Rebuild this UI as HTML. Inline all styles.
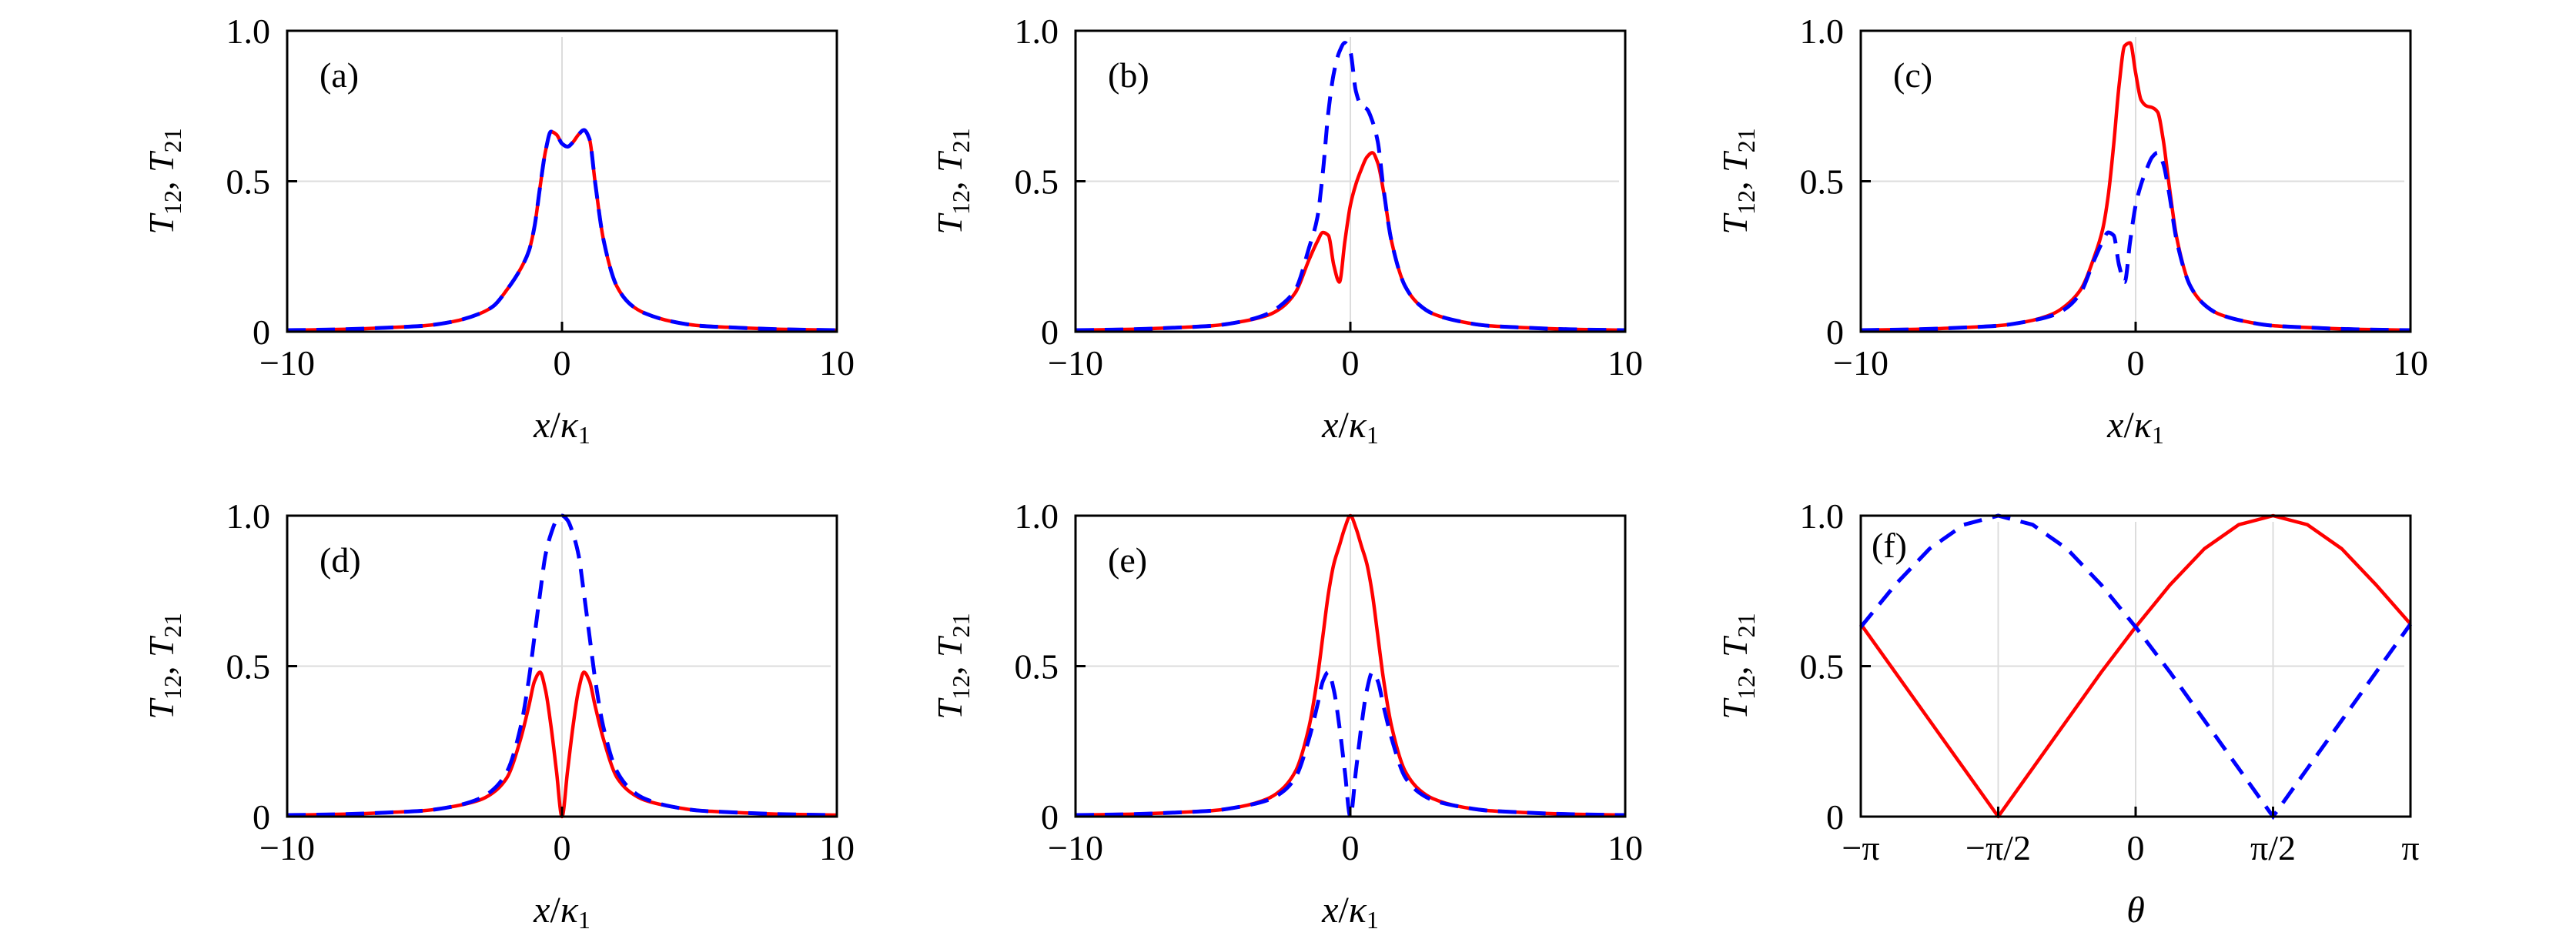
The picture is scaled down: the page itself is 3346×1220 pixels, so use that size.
<!DOCTYPE html>
<html><head><meta charset="utf-8"><style>
html,body{margin:0;padding:0;background:#fff;}
svg{display:block;}
text{font-family:"Liberation Serif",serif;fill:#000;}
</style></head><body>
<svg id="fig" width="3346" height="1220" viewBox="0 0 3346 1220"></svg>
<script>
// ---- data ----
const xs = [-10,-8,-6,-5,-4,-3,-2.5,-2,-1.5,-1.2,-1,-0.8,-0.6,-0.4,-0.2,0,0.2,0.4,0.6,0.8,1,1.2,1.5,2,2.5,3,4,5,6,8,10];
const redA  = [0.005,0.008,0.015,0.02,0.033,0.06,0.085,0.14,0.21,0.27,0.35,0.48,0.6,0.665,0.655,0.625,0.615,0.63,0.655,0.67,0.64,0.5,0.31,0.15,0.09,0.062,0.034,0.02,0.015,0.008,0.005];
const blueA = [0.005,0.008,0.015,0.02,0.033,0.06,0.085,0.14,0.21,0.27,0.35,0.48,0.6,0.665,0.655,0.625,0.615,0.63,0.655,0.67,0.64,0.5,0.31,0.15,0.09,0.062,0.034,0.02,0.015,0.008,0.005];
const redB  = [0.005,0.008,0.015,0.02,0.033,0.055,0.08,0.13,0.24,0.3,0.33,0.32,0.22,0.165,0.3,0.42,0.49,0.54,0.58,0.595,0.56,0.47,0.3,0.15,0.09,0.06,0.034,0.02,0.015,0.008,0.005];
const blueB = [0.005,0.008,0.015,0.02,0.033,0.06,0.09,0.14,0.28,0.38,0.53,0.73,0.86,0.93,0.96,0.93,0.8,0.75,0.74,0.7,0.63,0.48,0.3,0.15,0.09,0.06,0.034,0.02,0.015,0.008,0.005];
const redC  = [0.005,0.008,0.015,0.02,0.033,0.06,0.09,0.14,0.25,0.34,0.45,0.62,0.82,0.95,0.96,0.86,0.77,0.75,0.745,0.73,0.64,0.5,0.31,0.15,0.09,0.06,0.034,0.02,0.015,0.008,0.005];
const blueC = [0.005,0.008,0.015,0.02,0.033,0.055,0.08,0.13,0.24,0.3,0.33,0.32,0.22,0.165,0.3,0.42,0.49,0.54,0.58,0.595,0.56,0.47,0.3,0.15,0.09,0.06,0.034,0.02,0.015,0.008,0.005];
const redD  = [0.005,0.008,0.015,0.02,0.033,0.055,0.08,0.13,0.26,0.37,0.45,0.48,0.42,0.3,0.15,0,0.15,0.3,0.42,0.48,0.45,0.37,0.26,0.13,0.08,0.055,0.033,0.02,0.015,0.008,0.005];
const blueD = [0.005,0.008,0.015,0.02,0.033,0.06,0.09,0.15,0.3,0.46,0.6,0.74,0.87,0.94,0.985,1.0,0.985,0.94,0.87,0.74,0.6,0.46,0.3,0.15,0.09,0.06,0.033,0.02,0.015,0.008,0.005];
const redE  = [0.005,0.008,0.015,0.02,0.033,0.06,0.09,0.15,0.3,0.46,0.6,0.74,0.84,0.9,0.96,1.0,0.96,0.9,0.84,0.74,0.6,0.46,0.3,0.15,0.09,0.06,0.033,0.02,0.015,0.008,0.005];
const blueE = [0.005,0.008,0.015,0.02,0.033,0.055,0.08,0.13,0.26,0.37,0.45,0.48,0.42,0.3,0.15,0,0.15,0.3,0.42,0.48,0.45,0.37,0.26,0.13,0.08,0.055,0.033,0.02,0.015,0.008,0.005];
const thetaF = [-8,-7,-6,-5,-4,-3,-2,-1,0,1,2,3,4,5,6,7,8]; // in units of pi/8
const redF  = [0.64,0.48,0.32,0.16,0,0.16,0.32,0.48,0.63,0.77,0.89,0.97,1.0,0.97,0.89,0.77,0.64];
const blueF = [0.63,0.77,0.89,0.97,1.0,0.97,0.89,0.77,0.63,0.48,0.32,0.16,0,0.16,0.32,0.48,0.64];
const xTicksX = [-10,0,10];
const xTickLabelsX = ["\u221210","0","10"];
const xTicksF = [-8,-4,0,4,8];
const xTickLabelsF = ["\u2212\u03c0","\u2212\u03c0/2","0","\u03c0/2","\u03c0"];
const yTicks = [0,0.5,1];
const yTickLabels = ["0","0.5","1.0"];

const NS="http://www.w3.org/2000/svg";
const svg=document.getElementById('fig');
function mk(tag,attrs,parent){const e=document.createElementNS(NS,tag);for(const k in attrs)e.setAttribute(k,attrs[k]);(parent||svg).appendChild(e);return e;}

// monotone cubic (Fritsch-Carlson) path
function smoothPath(pts){
  const n=pts.length, dx=[], m=[], t=[];
  for(let i=0;i<n-1;i++){dx[i]=pts[i+1][0]-pts[i][0];m[i]=(pts[i+1][1]-pts[i][1])/dx[i];}
  t[0]=m[0]; t[n-1]=m[n-2];
  for(let i=1;i<n-1;i++){
    if(m[i-1]*m[i]<=0) t[i]=0;
    else t[i]=3*(dx[i-1]+dx[i])/((2*dx[i]+dx[i-1])/m[i-1]+(dx[i]+2*dx[i-1])/m[i]);
  }
  let d=`M${pts[0][0]},${pts[0][1]}`;
  for(let i=0;i<n-1;i++){
    const h=dx[i]/3;
    d+=` C${pts[i][0]+h},${pts[i][1]+t[i]*h} ${pts[i+1][0]-h},${pts[i+1][1]-t[i+1]*h} ${pts[i+1][0]},${pts[i+1][1]}`;
  }
  return d;
}
function linePath(pts){return 'M'+pts.map(p=>p[0]+','+p[1]).join(' L');}

const W=714,H=391;
const panels=[
 {id:'a',L:373,T:40,xv:xs,r:redA,b:blueA,xmin:-10,xmax:10,ticks:xTicksX,tl:xTickLabelsX,xl:'x',grid:[0],labelPos:'in'},
 {id:'b',L:1397,T:40,xv:xs,r:redB,b:blueB,xmin:-10,xmax:10,ticks:xTicksX,tl:xTickLabelsX,xl:'x',grid:[0],labelPos:'in'},
 {id:'c',L:2417,T:40,xv:xs,r:redC,b:blueC,xmin:-10,xmax:10,ticks:xTicksX,tl:xTickLabelsX,xl:'x',grid:[0],labelPos:'in'},
 {id:'d',L:373,T:670,xv:xs,r:redD,b:blueD,xmin:-10,xmax:10,ticks:xTicksX,tl:xTickLabelsX,xl:'x',grid:[0],labelPos:'in'},
 {id:'e',L:1397,T:670,xv:xs,r:redE,b:blueE,xmin:-10,xmax:10,ticks:xTicksX,tl:xTickLabelsX,xl:'x',grid:[0],labelPos:'in'},
 {id:'f',L:2417,T:670,xv:thetaF,r:redF,b:blueF,xmin:-8,xmax:8,ticks:xTicksF,tl:xTickLabelsF,xl:'theta',grid:[-4,0,4],labelPos:'corner',linear:true}
];

panels.forEach(p=>{
  const g=mk('g',{});
  
  
  const sx=v=>p.L+(v-p.xmin)/(p.xmax-p.xmin)*W;
  const sy=v=>p.T+H-v*H;
  p.grid.forEach(gv=>{
    const l=mk('line',{x1:sx(gv),x2:sx(gv),y1:p.T+8,y2:p.T+H-6,stroke:'#dcdcdc','stroke-width':2},g);
    
    
  });
  const gy=mk('line',{x1:p.L+6,x2:p.L+W-8,y1:sy(0.5),y2:sy(0.5),stroke:'#dcdcdc','stroke-width':2},g);
  
  
  const pf=p.linear?linePath:smoothPath;
  const rp=pf(p.xv.map((x,i)=>[sx(x),sy(p.r[i])]));
  const bp=pf(p.xv.map((x,i)=>[sx(x),sy(p.b[i])]));
  const red=mk('path',{d:rp,fill:'none',stroke:'#ff0000','stroke-width':4.5,'stroke-linejoin':'round'},g);
  
  
  const blue=mk('path',{d:bp,fill:'none',stroke:'#0000ff','stroke-width':5,'stroke-dasharray':'24 14'},g);
  
  
  const fr=mk('rect',{x:p.L,y:p.T,width:W,height:H,fill:'none',stroke:'#000','stroke-width':3},g);
  
  
  p.ticks.forEach((tv,i)=>{
    if(i>0&&i<p.ticks.length-1){
      const t=mk('line',{x1:sx(tv),x2:sx(tv),y1:p.T+H,y2:p.T+H-13,stroke:'#000','stroke-width':3},g);
      
      
    }
    const tx=mk('text',{x:sx(tv),y:p.T+H+56,'font-size':46,'text-anchor':'middle'},g);
    tx.textContent=p.tl[i];
    
    
  });
  const yt=mk('line',{x1:p.L,x2:p.L+13,y1:sy(0.5),y2:sy(0.5),stroke:'#000','stroke-width':3},g);
  
  
  yTicks.forEach((v,i)=>{
    const t=mk('text',{x:p.L-22,y:sy(v)+16,'font-size':46,'text-anchor':'end'},g);
    t.textContent=yTickLabels[i];
    
    
  });
  const yl=mk('text',{x:0,y:0,'font-size':46,'text-anchor':'middle',transform:`translate(${p.L-148},${p.T+H/2}) rotate(-90)`},g);
  yl.innerHTML='<tspan font-style="italic">T</tspan><tspan font-size="32" dy="10">12</tspan><tspan dy="-10">,  </tspan><tspan font-style="italic">T</tspan><tspan font-size="32" dy="10">21</tspan>';
  
  
  const xl=mk('text',{x:p.L+W/2,y:p.T+H+137,'font-size':48,'text-anchor':'middle'},g);
  if(p.xl==='x') xl.innerHTML='<tspan font-style="italic">x</tspan>/<tspan font-style="italic">\u03ba</tspan><tspan font-size="32" dy="8">1</tspan>';
  else xl.innerHTML='<tspan font-style="italic">\u03b8</tspan>';
  
  
  const pl=mk('text',{x:p.labelPos==='in'?p.L+42:p.L+14,y:p.labelPos==='in'?p.T+73:p.T+54,'font-size':46},g);
  pl.textContent='('+p.id+')';
  
  
});
</script>
</body></html>
